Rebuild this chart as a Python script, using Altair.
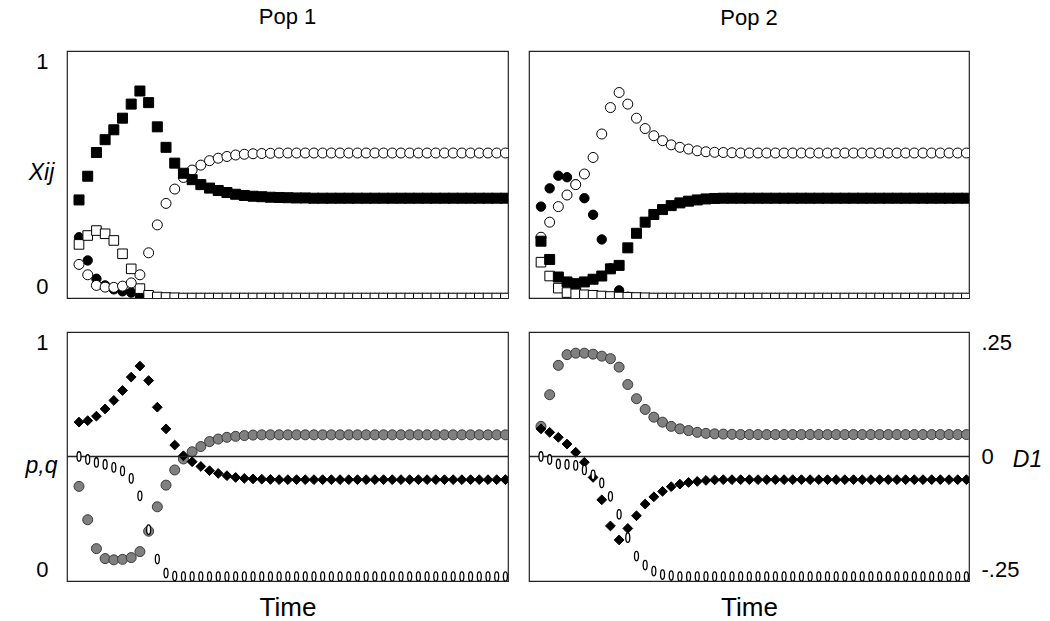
import altair as alt
import pandas as pd

T = list(range(50))

# ---------------- Pop 1, Xij ----------------
p1_sq_filled = [0.397, 0.493, 0.589, 0.641, 0.681, 0.728, 0.785, 0.838, 0.791, 0.693,
                0.610, 0.546, 0.505, 0.479, 0.459, 0.445, 0.435, 0.427, 0.420, 0.415,
                0.412, 0.410, 0.408, 0.407, 0.406, 0.405, 0.405, 0.404, 0.404, 0.404,
                0.404, 0.404, 0.404, 0.404, 0.404, 0.404, 0.404, 0.404, 0.404, 0.404,
                0.404, 0.404, 0.404, 0.404, 0.404, 0.404, 0.404, 0.404, 0.404, 0.404]
p1_ci_open = [0.136, 0.094, 0.051, 0.044, 0.043, 0.048, 0.061, 0.094, 0.183, 0.296,
              0.383, 0.441, 0.488, 0.518, 0.538, 0.556, 0.566, 0.573, 0.579, 0.582,
              0.584, 0.585, 0.586, 0.587, 0.587, 0.587, 0.587, 0.587, 0.587, 0.587,
              0.587, 0.587, 0.587, 0.587, 0.587, 0.587, 0.587, 0.587, 0.587, 0.587,
              0.587, 0.587, 0.587, 0.587, 0.587, 0.587, 0.587, 0.587, 0.587, 0.587]
p1_ci_filled = [0.246, 0.152, 0.078, 0.051, 0.035, 0.027, 0.022, 0.008, 0.003, 0.001,
                0.0, 0.0, 0.0, 0.0, 0.0, 0.0, 0.0, 0.0, 0.0, 0.0,
                0.0, 0.0, 0.0, 0.0, 0.0, 0.0, 0.0, 0.0, 0.0, 0.0,
                0.0, 0.0, 0.0, 0.0, 0.0, 0.0, 0.0, 0.0, 0.0, 0.0,
                0.0, 0.0, 0.0, 0.0, 0.0, 0.0, 0.0, 0.0, 0.0, 0.0]
p1_sq_open = [0.217, 0.253, 0.273, 0.260, 0.233, 0.179, 0.118, 0.038, 0.011, 0.004,
              0.002, 0.001, 0.0, 0.0, 0.0, 0.0, 0.0, 0.0, 0.0, 0.0,
              0.0, 0.0, 0.0, 0.0, 0.0, 0.0, 0.0, 0.0, 0.0, 0.0,
              0.0, 0.0, 0.0, 0.0, 0.0, 0.0, 0.0, 0.0, 0.0, 0.0,
              0.0, 0.0, 0.0, 0.0, 0.0, 0.0, 0.0, 0.0, 0.0, 0.0]

# ---------------- Pop 2, Xij ----------------
p2_sq_filled = [0.230, 0.156, 0.085, 0.065, 0.058, 0.065, 0.076, 0.089, 0.118, 0.132,
                0.203, 0.262, 0.307, 0.338, 0.358, 0.374, 0.385, 0.392, 0.397, 0.401,
                0.403, 0.404, 0.404, 0.404, 0.404, 0.404, 0.404, 0.404, 0.404, 0.404,
                0.404, 0.404, 0.404, 0.404, 0.404, 0.404, 0.404, 0.404, 0.404, 0.404,
                0.404, 0.404, 0.404, 0.404, 0.404, 0.404, 0.404, 0.404, 0.404, 0.404]
p2_ci_open = [0.246, 0.307, 0.370, 0.417, 0.459, 0.502, 0.569, 0.664, 0.771, 0.832,
              0.785, 0.728, 0.686, 0.657, 0.637, 0.620, 0.610, 0.603, 0.596, 0.592,
              0.590, 0.589, 0.588, 0.587, 0.587, 0.587, 0.587, 0.587, 0.587, 0.587,
              0.587, 0.587, 0.587, 0.587, 0.587, 0.587, 0.587, 0.587, 0.587, 0.587,
              0.587, 0.587, 0.587, 0.587, 0.587, 0.587, 0.587, 0.587, 0.587, 0.587]
p2_ci_filled = [0.370, 0.444, 0.495, 0.489, 0.460, 0.404, 0.337, 0.237, 0.120, 0.031,
                0.005, 0.0, 0.0, 0.0, 0.0, 0.0, 0.0, 0.0, 0.0, 0.0,
                0.0, 0.0, 0.0, 0.0, 0.0, 0.0, 0.0, 0.0, 0.0, 0.0,
                0.0, 0.0, 0.0, 0.0, 0.0, 0.0, 0.0, 0.0, 0.0, 0.0,
                0.0, 0.0, 0.0, 0.0, 0.0, 0.0, 0.0, 0.0, 0.0, 0.0]
p2_sq_open = [0.145, 0.089, 0.040, 0.022, 0.017, 0.013, 0.011, 0.008, 0.006, 0.004,
              0.003, 0.002, 0.001, 0.0, 0.0, 0.0, 0.0, 0.0, 0.0, 0.0,
              0.0, 0.0, 0.0, 0.0, 0.0, 0.0, 0.0, 0.0, 0.0, 0.0,
              0.0, 0.0, 0.0, 0.0, 0.0, 0.0, 0.0, 0.0, 0.0, 0.0,
              0.0, 0.0, 0.0, 0.0, 0.0, 0.0, 0.0, 0.0, 0.0, 0.0]

# ---------------- Pop 1, p,q and D1 ----------------
p1_grey = [0.380, 0.246, 0.130, 0.090, 0.085, 0.087, 0.094, 0.118, 0.200, 0.298,
           0.385, 0.446, 0.490, 0.519, 0.540, 0.560, 0.570, 0.577, 0.581, 0.584,
           0.586, 0.587, 0.587, 0.587, 0.587, 0.587, 0.587, 0.587, 0.587, 0.587,
           0.587, 0.587, 0.587, 0.587, 0.587, 0.587, 0.587, 0.587, 0.587, 0.587,
           0.587, 0.587, 0.587, 0.587, 0.587, 0.587, 0.587, 0.587, 0.587, 0.587]
p1_diam = [0.638, 0.644, 0.662, 0.691, 0.725, 0.765, 0.819, 0.863, 0.805, 0.698,
           0.611, 0.546, 0.503, 0.479, 0.460, 0.443, 0.432, 0.423, 0.416, 0.412,
           0.410, 0.409, 0.408, 0.407, 0.407, 0.407, 0.407, 0.407, 0.407, 0.407,
           0.407, 0.407, 0.407, 0.407, 0.407, 0.407, 0.407, 0.407, 0.407, 0.407,
           0.407, 0.407, 0.407, 0.407, 0.407, 0.407, 0.407, 0.407, 0.407, 0.407]
p1_d1 = [0.0, -0.006, -0.012, -0.016, -0.022, -0.029, -0.044, -0.079, -0.147, -0.206,
         -0.234, -0.240, -0.241, -0.241, -0.241, -0.241, -0.241, -0.241, -0.241, -0.241,
         -0.241, -0.241, -0.241, -0.241, -0.241, -0.241, -0.241, -0.241, -0.241, -0.241,
         -0.241, -0.241, -0.241, -0.241, -0.241, -0.241, -0.241, -0.241, -0.241, -0.241,
         -0.241, -0.241, -0.241, -0.241, -0.241, -0.241, -0.241, -0.241, -0.241, -0.241]

# ---------------- Pop 2, p,q and D1 ----------------
p2_grey = [0.621, 0.748, 0.866, 0.909, 0.915, 0.915, 0.911, 0.903, 0.893, 0.859,
           0.789, 0.732, 0.689, 0.658, 0.638, 0.621, 0.611, 0.604, 0.597, 0.593,
           0.591, 0.590, 0.589, 0.588, 0.588, 0.588, 0.588, 0.588, 0.588, 0.588,
           0.588, 0.588, 0.588, 0.588, 0.588, 0.588, 0.588, 0.588, 0.588, 0.588,
           0.588, 0.588, 0.588, 0.588, 0.588, 0.588, 0.588, 0.588, 0.588, 0.588]
p2_diam = [0.611, 0.597, 0.577, 0.550, 0.517, 0.477, 0.416, 0.326, 0.221, 0.165,
           0.211, 0.262, 0.309, 0.338, 0.360, 0.379, 0.389, 0.396, 0.400, 0.404,
           0.406, 0.407, 0.407, 0.407, 0.407, 0.407, 0.407, 0.407, 0.407, 0.407,
           0.407, 0.407, 0.407, 0.407, 0.407, 0.407, 0.407, 0.407, 0.407, 0.407,
           0.407, 0.407, 0.407, 0.407, 0.407, 0.407, 0.407, 0.407, 0.407, 0.407]
p2_d1 = [0.0, -0.006, -0.015, -0.016, -0.018, -0.027, -0.037, -0.053, -0.080, -0.116,
         -0.163, -0.200, -0.218, -0.230, -0.237, -0.239, -0.241, -0.241, -0.241, -0.241,
         -0.241, -0.241, -0.241, -0.241, -0.241, -0.241, -0.241, -0.241, -0.241, -0.241,
         -0.241, -0.241, -0.241, -0.241, -0.241, -0.241, -0.241, -0.241, -0.241, -0.241,
         -0.241, -0.241, -0.241, -0.241, -0.241, -0.241, -0.241, -0.241, -0.241, -0.241]

D1_ZERO = [0.0]
X_DOMAIN = [-1.38, 49.3]
FONT = "Liberation Sans"
W_L, W_R = 441, 440
H_TOP, H_BOT = 247, 249
OVAL = "M0,-1A0.42,1 0 1,1 0,1A0.42,1 0 1,1 0,-1Z"

x_scale = alt.Scale(domain=X_DOMAIN, nice=False, zero=False)
time_axis = alt.Axis(title="Time", labels=False, ticks=False, domain=False, grid=False,
                     titleFontSize=26, titleFont=FONT, titleFontWeight="normal",
                     titleColor="black", titlePadding=13)
xs_top = alt.X("t:Q", scale=x_scale, axis=None)
xs_bot = alt.X("t:Q", scale=x_scale, axis=time_axis)
ys01 = alt.Scale(domain=[0, 1], nice=False, zero=False)


def pts(df, col, shape, fill, stroke, size, x_enc, y_axis, y_scale=ys01, sw=1.0):
    return alt.Chart(df).mark_point(
        shape=shape, filled=True, fill=fill, stroke=stroke, strokeWidth=sw,
        size=size, opacity=1, clip=True
    ).encode(x=x_enc, y=alt.Y(f"{col}:Q", scale=y_scale, axis=y_axis))


def left_axis(title, ty):
    return alt.Axis(values=[0, 1], format="d", ticks=False, domain=False, grid=False,
                    labelFontSize=22, labelFont=FONT, labelColor="black", labelPadding=19,
                    labelFlush=True, title=title, titleAngle=0, titleFontStyle="italic",
                    titleFont=FONT, titleFontSize=23, titleFontWeight="normal",
                    titleColor="black", titleAlign="center", titleBaseline="middle",
                    titleX=-26, titleY=ty)


def top_panel(sqf, cio, cif, sqo, title, w, with_axis):
    df = pd.DataFrame({"t": T, "sqf": sqf, "cio": cio, "cif": cif, "sqo": sqo})
    ax = left_axis("Xij", 121) if with_axis else None
    layers = [
        pts(df, "cif", "circle", "black", "black", 88, xs_top, ax),
        pts(df, "sqo", "square", "white", "black", 92, xs_top, ax),
        pts(df, "cio", "circle", "white", "black", 100, xs_top, ax),
        pts(df, "sqf", "square", "black", "black", 100, xs_top, ax),
    ]
    return alt.layer(*layers).properties(
        width=w, height=H_TOP,
        title=alt.Title(title, fontSize=22, font=FONT, fontWeight="normal", color="black",
                        offset=21, anchor="middle"))


def bottom_panel(grey, diam, d1, w, left, right):
    df = pd.DataFrame({"t": T, "grey": grey, "diam": diam, "d1": d1})
    zero_df = pd.DataFrame({"z": D1_ZERO})
    d1_scale = alt.Scale(domain=[-0.25, 0.25], nice=False, zero=False)
    if right:
        d1_axis = alt.Axis(orient="right", values=[-0.25, 0, 0.25], ticks=False, domain=False,
                           grid=False,
                           labelExpr="datum.value == 0 ? '0' : (datum.value > 0 ? '.25' : '-.25')",
                           labelFontSize=22, labelFont=FONT, labelColor="black", labelPadding=12,
                           labelFlush=True, title="D1", titleAngle=0, titleFontStyle="italic",
                           titleFont=FONT, titleFontSize=23, titleFontWeight="normal",
                           titleColor="black", titleAlign="center", titleBaseline="middle",
                           titleX=58, titleY=127)
    else:
        d1_axis = None
    pq_axis = left_axis("p,q", 133) if left else None
    rule = alt.Chart(zero_df).mark_rule(color="#222222", strokeWidth=1.3).encode(
        y=alt.Y("z:Q", scale=d1_scale, axis=d1_axis))
    pq = alt.layer(
        pts(df, "grey", "circle", "#808080", "#3a3a3a", 100, xs_bot, pq_axis),
        pts(df, "diam", "diamond", "black", "black", 96, xs_bot, pq_axis),
    )
    d1m = pts(df, "d1", OVAL, "white", "black", 90, xs_bot, d1_axis, y_scale=d1_scale, sw=1.3)
    return alt.layer(pq, alt.layer(rule, d1m)).resolve_scale(y="independent").properties(
        width=w, height=H_BOT)


tl = top_panel(p1_sq_filled, p1_ci_open, p1_ci_filled, p1_sq_open, "Pop 1", W_L, True)
tr = top_panel(p2_sq_filled, p2_ci_open, p2_ci_filled, p2_sq_open, "Pop 2", W_R, False)
bl = bottom_panel(p1_grey, p1_diam, p1_d1, W_L, True, False)
br = bottom_panel(p2_grey, p2_diam, p2_d1, W_R, False, True)

chart = alt.concat(tl, tr, bl, br, columns=2, spacing={"row": 34, "column": 21},
                   bounds="flush").properties(
    padding={"left": 24, "top": 5, "right": 5, "bottom": 5},
    background="white"
).configure_view(stroke="#222222", strokeWidth=1.2)

chart.save("out.html", embed_options={"renderer": "svg", "actions": False})
